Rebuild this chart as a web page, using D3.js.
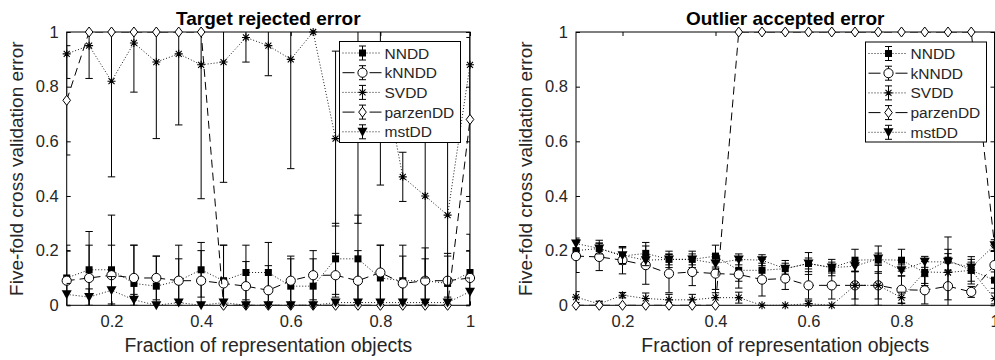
<!DOCTYPE html>
<html><head><meta charset="utf-8">
<script src="https://cdn.jsdelivr.net/npm/d3@7"></script>
<style>body{margin:0;background:#fff}svg{display:block;font-family:"Liberation Sans",Arial,Helvetica,sans-serif}</style>
</head><body><svg id="c" width="995" height="360"></svg>
<script>
// ---- data ----
const fractions = [0.10,0.15,0.20,0.25,0.30,0.35,0.40,0.45,0.50,0.55,0.60,0.65,0.70,0.75,0.80,0.85,0.90,0.95,1.00];
const xTicks = [0.2,0.4,0.6,0.8,1];
const yTicks = [0,0.2,0.4,0.6,0.8,1];
const seriesNames = ["NNDD","kNNDD","SVDD","parzenDD","mstDD"];
const panelTitles = ["Target rejected error","Outlier accepted error"];
const xLabel = "Fraction of representation objects";
const yLabel = "Five-fold cross validation error";

// Target rejected error (left)
const targetNNDD     = [0.10,0.13,0.13,0.08,0.07,0.09,0.13,0.09,0.12,0.12,0.07,0.07,0.17,0.17,0.10,0.09,0.09,0.08,0.12];
const targetNNDDStd  = [0.12,0.14,0.20,0.14,0.11,0.13,0.10,0.13,0.10,0.11,0.10,0.10,0.13,0.16,0.12,0.13,0.12,0.11,0.14];
const targetKNNDD    = [0.09,0.10,0.11,0.10,0.10,0.09,0.09,0.08,0.07,0.055,0.09,0.11,0.11,0.09,0.12,0.08,0.09,0.09,0.10];
const targetKNNDDStd = [0.11,0.12,0.11,0.12,0.08,0.08,0.11,0.14,0.09,0.09,0.09,0.09,0.08,0.11,0.10,0.10,0.08,0.09,0.10];
const targetSVDD     = [0.92,0.95,0.82,0.96,0.89,0.92,0.88,0.89,0.98,0.95,0.90,1.00,0.61,0.72,0.90,0.47,0.40,0.33,0.88];
const targetSVDDStd  = [0.09,0.12,0.35,0.18,0.28,0.26,0.49,0.44,0.09,0.11,0.40,0.00,0.32,0.42,0.46,0.09,0.30,0.30,0.20];
const targetParzen   = [0.75,1,1,1,1,1,1,0,0,0,0,0,0,0,0,0,0,0,0.68];
const targetParzenStd= [0.20,0,0,0,0,0,0,0,0,0,0,0,0,0,0,0,0,0,0.30];
const targetMST      = [0.04,0.03,0.055,0.02,0,0.01,0,0.01,0,0,0,0,0.01,0.01,0.01,0.01,0.01,0.01,0.05];
const targetMSTStd   = [0.04,0.03,0.05,0.02,0,0.01,0,0.01,0,0,0,0,0.01,0.01,0.01,0.01,0.01,0.01,0.05];

// Outlier accepted error (right)
const outlierNNDD     = [0.20,0.208,0.18,0.19,0.168,0.168,0.18,0.128,0.128,0.134,0.153,0.138,0.165,0.167,0.165,0.12,0.165,0.128,0.092];
const outlierNNDDStd  = [0.03,0.03,0.03,0.04,0.03,0.03,0.04,0.04,0.04,0.03,0.04,0.03,0.04,0.05,0.04,0.04,0.04,0.04,0.03];
const outlierKNNDD    = [0.18,0.177,0.165,0.147,0.116,0.122,0.116,0.113,0.094,0.098,0.073,0.073,0.073,0.073,0.057,0.055,0.07,0.049,0.147];
const outlierKNNDDStd = [0.06,0.05,0.05,0.07,0.07,0.05,0.07,0.05,0.06,0.04,0.05,0.05,0.05,0.05,0.05,0.05,0.05,0.02,0.05];
const outlierSVDD     = [0.03,0.005,0.037,0.025,0.02,0.02,0.028,0.028,0,0,0.006,0,0.073,0.073,0.028,0.122,0.12,0.128,0.025];
const outlierSVDDStd  = [0.02,0.01,0.01,0.02,0.02,0.02,0.03,0.02,0,0,0.01,0,0.073,0.073,0.02,0.05,0.13,0.05,0.02];
const outlierParzen   = [0,0,0,0,0,0,0,1,1,1,1,1,1,1,1,1,1,1,0.22];
const outlierParzenStd= [0,0,0,0,0,0,0,0,0,0,0,0,0,0,0,0,0,0,0];
const outlierMST      = [0.226,0.208,0.183,0.165,0.168,0.168,0.153,0.168,0.165,0.134,0.153,0.138,0.143,0.171,0.128,0.159,0.159,0.138,0.22];
const outlierMSTStd   = [0.02,0.02,0.03,0.02,0.02,0.02,0.02,0.02,0.02,0.02,0.02,0.02,0.02,0.02,0.02,0.02,0.03,0.02,0.02];

// ---- styles ----
const seriesStyle = {
  NNDD:     {dash:"1,2", marker:"square"},
  kNNDD:    {dash:"8,5", marker:"circle"},
  SVDD:     {dash:"1,2", marker:"star"},
  parzenDD: {dash:"8,5", marker:"diamond"},
  mstDD:    {dash:"1,2", marker:"tri"}
};

const panels = [
  {title: panelTitles[0], x0:66.7, x1:470, y0:32, y1:305.3, legend:{x:339.5,y:41.5,w:121,h:101},
   series:[[targetNNDD,targetNNDDStd],[targetKNNDD,targetKNNDDStd],[targetSVDD,targetSVDDStd],[targetParzen,targetParzenStd],[targetMST,targetMSTStd]]},
  {title: panelTitles[1], x0:576, x1:994.5, y0:32, y1:305.3, legend:{x:865.5,y:42,w:121,h:100},
   series:[[outlierNNDD,outlierNNDDStd],[outlierKNNDD,outlierKNNDDStd],[outlierSVDD,outlierSVDDStd],[outlierParzen,outlierParzenStd],[outlierMST,outlierMSTStd]]}
];

const svg = d3.select("#c");
const textColor = "#262626";

function drawMarker(g, type, x, y) {
  if (type === "square") {
    g.append("rect").attr("x", x-3.5).attr("y", y-3.5).attr("width", 7).attr("height", 7).attr("fill", "#000");
  } else if (type === "circle") {
    g.append("circle").attr("cx", x).attr("cy", y).attr("r", 4.6).attr("fill", "#fff").attr("stroke", "#000").attr("stroke-width", 1);
  } else if (type === "star") {
    g.append("path").attr("d", `M${x-4},${y}L${x+4},${y}M${x},${y-4}L${x},${y+4}M${x-3},${y-3}L${x+3},${y+3}M${x-3},${y+3}L${x+3},${y-3}`)
      .attr("stroke", "#000").attr("stroke-width", 1.1).attr("fill", "none");
  } else if (type === "diamond") {
    g.append("path").attr("d", `M${x},${y-5}L${x+3.8},${y}L${x},${y+5}L${x-3.8},${y}Z`)
      .attr("fill", "#fff").attr("stroke", "#000").attr("stroke-width", 1);
  } else if (type === "tri") {
    g.append("path").attr("d", `M${x-5},${y-4}L${x+5},${y-4}L${x},${y+5}Z`).attr("fill", "#000");
  }
}

panels.forEach((p, pi) => {
  const x = d3.scaleLinear().domain([0.1, 1]).range([p.x0, p.x1]);
  const y = d3.scaleLinear().domain([0, 1]).range([p.y1, p.y0]);
  const g = svg.append("g");
  const clipId = "clip" + pi;
  svg.append("clipPath").attr("id", clipId).append("rect")
    .attr("x", p.x0).attr("y", p.y0).attr("width", p.x1 - p.x0).attr("height", p.y1 - p.y0);

  // axes
  const fmt = d => d3.format("~g")(d);
  const xb = g.append("g").attr("transform", `translate(0,${p.y1})`)
    .call(d3.axisBottom(x).tickValues(xTicks).tickSize(-4).tickPadding(10).tickFormat(fmt));
  const xt = g.append("g").attr("transform", `translate(0,${p.y0})`)
    .call(d3.axisTop(x).tickValues(xTicks).tickSize(-4).tickFormat(""));
  const yl = g.append("g").attr("transform", `translate(${p.x0},0)`)
    .call(d3.axisLeft(y).tickValues(yTicks).tickSize(-4).tickPadding(8).tickFormat(fmt));
  const yr = g.append("g").attr("transform", `translate(${p.x1},0)`)
    .call(d3.axisRight(y).tickValues(yTicks).tickSize(-4).tickFormat(""));
  [xb, xt, yl, yr].forEach(a => {
    a.select(".domain").remove();
    a.selectAll("line").attr("stroke", "#000");
    a.selectAll("text").attr("fill", textColor).style("font-size", "16.5px").style("font-family", '"Liberation Sans",Arial,sans-serif');
  });
  g.append("rect").attr("x", p.x0).attr("y", p.y0).attr("width", p.x1 - p.x0).attr("height", p.y1 - p.y0)
    .attr("fill", "none").attr("stroke", "#000").attr("stroke-width", 1);

  // data
  const dg = g.append("g");
  p.series.forEach((s, si) => {
    const name = seriesNames[si];
    const st = seriesStyle[name];
    const [mean, sd] = s;
    const pts = fractions.map((f, i) => ({f, m: mean[i], s: sd[i]}));
    const cg = dg.append("g").attr("clip-path", `url(#${clipId})`);
    // error bars
    pts.forEach(d => {
      if (d.s <= 0) return;
      const xx = x(d.f), lo = y(d.m - d.s), hi = y(d.m + d.s);
      cg.append("path").attr("d", `M${xx},${lo}L${xx},${hi}M${xx-3.7},${lo}L${xx+3.7},${lo}M${xx-3.7},${hi}L${xx+3.7},${hi}`)
        .attr("stroke", "#000").attr("stroke-width", 1).attr("fill", "none");
    });
    const line = d3.line().x(d => x(d.f)).y(d => y(d.m));
    cg.append("path").datum(pts).attr("d", line).attr("fill", "none")
      .attr("stroke", "#000").attr("stroke-width", st.dash === "1,2" ? 0.9 : 1).attr("stroke-dasharray", st.dash);
    const mg = dg.append("g");
    pts.forEach(d => drawMarker(mg, st.marker, x(d.f), y(d.m)));
  });

  // title + labels
  const cx = (p.x0 + p.x1) / 2;
  g.append("text").attr("x", cx).attr("y", 25).attr("text-anchor", "middle").attr("fill", "#000")
    .style("font-size", "19px").style("font-weight", "bold").text(p.title);
  g.append("text").attr("x", cx).attr("y", 352).attr("text-anchor", "middle").attr("fill", textColor)
    .style("font-size", "19.4px").text(xLabel);
  g.append("text").attr("transform", `translate(${p.x0 - 44},${(p.y0 + p.y1) / 2}) rotate(-90)`)
    .attr("text-anchor", "middle").attr("fill", textColor).style("font-size", "19px").text(yLabel);

  // legend
  const L = p.legend;
  const lg = g.append("g");
  lg.append("rect").attr("x", L.x).attr("y", L.y).attr("width", L.w).attr("height", L.h)
    .attr("fill", "#fff").attr("stroke", "#000").attr("stroke-width", 1);
  seriesNames.forEach((name, i) => {
    const st = seriesStyle[name];
    const ry = L.y + 11.5 + i * 19.7;
    const mx = L.x + 23;
    if (st.dash === "1,2") {
      lg.append("line").attr("x1", L.x + 3).attr("x2", L.x + 42).attr("y1", ry).attr("y2", ry)
        .attr("stroke", "#000").attr("stroke-width", 0.9).attr("stroke-dasharray", "1,2");
    } else {
      [[L.x + 3, L.x + 15], [L.x + 30, L.x + 42]].forEach(([a, b]) =>
        lg.append("line").attr("x1", a).attr("x2", b).attr("y1", ry).attr("y2", ry)
          .attr("stroke", "#000").attr("stroke-width", 1));
    }
    lg.append("path").attr("d", `M${mx},${ry-7}L${mx},${ry+7}M${mx-3.5},${ry-7}L${mx+3.5},${ry-7}M${mx-3.5},${ry+7}L${mx+3.5},${ry+7}`)
      .attr("stroke", "#000").attr("fill", "none");
    drawMarker(lg, st.marker, mx, ry);
    lg.append("text").attr("x", L.x + 45).attr("y", ry + 5.5).attr("fill", textColor)
      .style("font-size", "15.5px").text(name);
  });
});
</script>
</body></html>
